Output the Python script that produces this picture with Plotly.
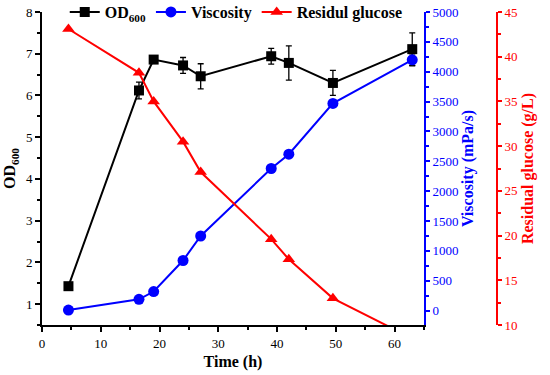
import plotly.graph_objects as go

time_h = [4.5, 16.5, 19, 24, 27, 39, 42, 49.5, 63]
od600 = [1.43, 6.12, 6.86, 6.72, 6.46, 6.94, 6.78, 6.30, 7.11]
od600_err = [0, 0.2, 0, 0.19, 0.3, 0.19, 0.41, 0.3, 0.39]
viscosity = [10, 190, 320, 840, 1250, 2380, 2620, 3470, 4200]
viscosity_err = [0, 0, 0, 0, 0, 0, 0, 0, 100]
glucose = [43.1, 38.2, 35.0, 30.5, 27.1, 19.6, 17.35, 12.98, 8.5]

FONT = "Liberation Serif"
BLUE = "#0000FF"
RED = "#FF0000"

fig = go.Figure()
fig.add_trace(go.Scatter(
    x=time_h, y=od600, name="OD<sub>600</sub>", mode="lines+markers",
    line=dict(color="black", width=2),
    marker=dict(symbol="square", size=10, color="black"),
    error_y=dict(type="data", array=od600_err, color="black", thickness=1.3, width=3),
    yaxis="y"))
fig.add_trace(go.Scatter(
    x=time_h, y=viscosity, name="Viscosity", mode="lines+markers",
    line=dict(color=BLUE, width=2),
    marker=dict(symbol="circle", size=11, color=BLUE),
    error_y=dict(type="data", array=viscosity_err, color="black", thickness=1.3, width=3),
    yaxis="y2"))
fig.add_trace(go.Scatter(
    x=time_h, y=glucose, name="Residul glucose", mode="lines+markers",
    line=dict(color=RED, width=2),
    marker=dict(symbol="triangle-up", size=11, color=RED),
    yaxis="y3"))

fig.update_layout(
    width=550, height=375,
    margin=dict(l=42, r=53, t=12, b=50, autoexpand=False),
    plot_bgcolor="white", paper_bgcolor="white",
    font=dict(family=FONT, size=13, color="black"),
    showlegend=True,
    legend=dict(orientation="h", x=0.05, y=1.0, xanchor="left", yanchor="middle",
                bgcolor="rgba(0,0,0,0)", font=dict(family=FONT, size=16, color="black", weight="bold"),
                itemwidth=30, tracegroupgap=0),
    xaxis=dict(domain=[0, 382/455], range=[0, 65], dtick=10, tick0=0,
               showgrid=False, zeroline=False, showline=True, linecolor="black", linewidth=2,
               ticks="outside", ticklen=5, tickwidth=2, tickcolor="black",
               minor=dict(dtick=5, ticks="outside", ticklen=3, tickwidth=1.5, tickcolor="black"),
               title=dict(text="<b>Time (h)</b>", font=dict(size=16), standoff=6)),
    yaxis=dict(range=[0.5, 8], dtick=1, tick0=0, ticklabeloverflow="allow",
               showgrid=False, zeroline=False, showline=True, linecolor="black", linewidth=2,
               ticks="outside", ticklen=5, tickwidth=2, tickcolor="black",
               minor=dict(dtick=0.5, ticks="outside", ticklen=3, tickwidth=1.5, tickcolor="black"),
               title=dict(text="<b>OD<sub>600</sub></b>", font=dict(size=16), standoff=6)),
    yaxis2=dict(overlaying="y", side="right", anchor="x", range=[-240, 5000], dtick=500, tick0=0,
                ticklabeloverflow="allow",
                showgrid=False, zeroline=False, showline=True, linecolor=BLUE, linewidth=2,
                ticks="outside", ticklen=4, tickwidth=2, tickcolor=BLUE,
                tickfont=dict(color=BLUE),
                minor=dict(dtick=250, ticks="outside", ticklen=3, tickwidth=1.5, tickcolor=BLUE),
                title=dict(text="<b>Viscosity (mPa/s)</b>", font=dict(size=16, color=BLUE), standoff=4)),
    yaxis3=dict(overlaying="y", side="right", anchor="free", position=1.0,
                range=[10, 45], dtick=5, tick0=0, ticklabeloverflow="allow",
                showgrid=False, zeroline=False, showline=True, linecolor=RED, linewidth=2,
                ticks="outside", ticklen=4, tickwidth=2, tickcolor=RED,
                tickfont=dict(color=RED),
                minor=dict(dtick=2.5, ticks="outside", ticklen=3, tickwidth=1.5, tickcolor=RED),
                title=dict(text="<b>Residual glucose (g/L)</b>", font=dict(size=16, color=RED), standoff=4)),
)

fig.write_html("out.html", config={"displayModeBar": False},
               post_script="document.body.style.margin='0';")
